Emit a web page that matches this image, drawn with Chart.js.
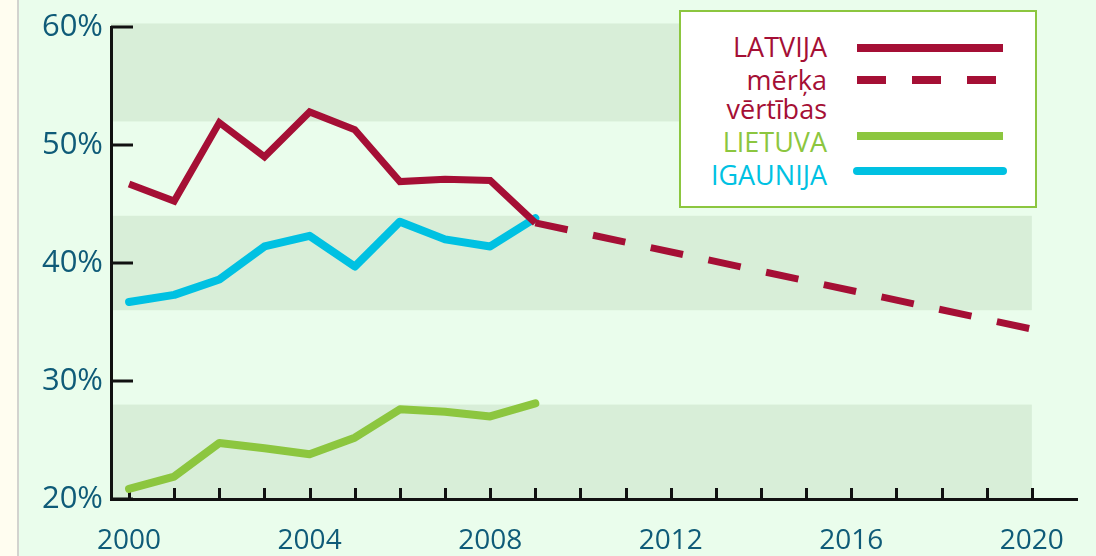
<!DOCTYPE html>
<html>
<head>
<meta charset="utf-8">
<script src="https://cdn.jsdelivr.net/npm/chart.js@4"></script>
<style>
  html, body { margin: 0; padding: 0; }
  body { width: 1096px; height: 556px; position: relative; overflow: hidden; background: #eafdec; font-family: "Open Sans", sans-serif; }
  #wrap { position: absolute; left: 0; top: 0; width: 1096px; height: 556px; }
  #legend { position: absolute; left: 679px; top: 10px; width: 354px; height: 194px; background: #fff; border: 2px solid #8cc63f; }
  #legend .lbl { position: absolute; right: 208px; font-size: 27px; line-height: 27px; white-space: nowrap; }
  #legend .smp { position: absolute; left: 176px; width: 146px; height: 8px; }
</style>
</head>
<body>
<div id="wrap"><canvas id="chart" width="1096" height="556"></canvas></div>
<div id="legend">
  <div class="lbl" style="top:21px;color:#a50f35">LATVIJA</div>
  <div class="smp" style="top:32px;background:#a50f35"></div>
  <div class="lbl" style="top:54px;color:#a50f35">mērķa</div>
  <div class="smp" style="top:64px;background:repeating-linear-gradient(90deg,#a50f35 0 29px,transparent 29px 55px)"></div>
  <div class="lbl" style="top:83px;color:#a50f35">vērtības</div>
  <div class="lbl" style="top:116px;color:#8cc63f">LIETUVA</div>
  <div class="smp" style="top:120px;background:#8cc63f"></div>
  <div class="lbl" style="top:149px;color:#00c1e2">IGAUNIJA</div>
  <div class="smp" style="top:155px;left:172px;width:154px;border-radius:4px;background:#00c1e2"></div>
</div>
<script>
// chart data
const years = [2000, 2001, 2002, 2003, 2004, 2005, 2006, 2007, 2008, 2009];
const latvija = [46.7, 45.25, 51.9, 49.0, 52.8, 51.3, 46.9, 47.1, 47.0, 43.4];
const targetYears = [2009, 2020];
const targetValues = [43.4, 34.4];
const lietuva = [20.85, 21.9, 24.75, 24.3, 23.8, 25.2, 27.6, 27.4, 27.0, 28.1];
const igaunija = [36.7, 37.3, 38.6, 41.4, 42.3, 39.7, 43.5, 42.0, 41.4, 43.8];

const yTicks = [20, 30, 40, 50, 60];
const xTickYears = [2000, 2001, 2002, 2003, 2004, 2005, 2006, 2007, 2008, 2009, 2010,
  2011, 2012, 2013, 2014, 2015, 2016, 2017, 2018, 2019, 2020];
const xLabelYears = [2000, 2004, 2008, 2012, 2016, 2020];
// shaded horizontal bands [from, to] in %
const bands = [[52, 60.3], [36, 44], [20, 28]];
const bandEndYear = 2020;

const RED = '#a50f35', GREEN = '#8cc63f', CYAN = '#00c1e2', TEXT = '#0f5b78';

const pts = (xs, ys) => xs.map((x, i) => ({ x: x, y: ys[i] }));

// background, bands and inner tick marks
const decor = {
  id: 'decor',
  beforeDraw(chart) {
    const ctx = chart.ctx, a = chart.chartArea;
    const xs = chart.scales.x, ys = chart.scales.y;
    ctx.save();
    ctx.fillStyle = '#eafdec';
    ctx.fillRect(0, 0, chart.width, chart.height);
    ctx.fillStyle = '#fffdf0';
    ctx.fillRect(0, 0, 17, chart.height);
    ctx.fillStyle = '#d3d3cf';
    ctx.fillRect(17, 0, 2, chart.height);
    ctx.fillStyle = '#d8eed8';
    const xr = xs.getPixelForValue(bandEndYear);
    bands.forEach(b => {
      const top = ys.getPixelForValue(b[1]);
      const bot = ys.getPixelForValue(b[0]);
      ctx.fillRect(a.left, top, xr - a.left, bot - top);
    });
    ctx.restore();
  },
  beforeDatasetsDraw(chart) {
    const ctx = chart.ctx, a = chart.chartArea;
    const xs = chart.scales.x, ys = chart.scales.y;
    ctx.save();
    ctx.strokeStyle = '#111';
    ctx.lineWidth = 3;
    ctx.beginPath();
    xTickYears.forEach(v => {
      const x = Math.round(xs.getPixelForValue(v)) + 0.5;
      ctx.moveTo(x, a.bottom);
      ctx.lineTo(x, a.bottom - 11);
    });
    yTicks.forEach(v => {
      const y = Math.round(ys.getPixelForValue(v));
      ctx.moveTo(a.left, y);
      ctx.lineTo(a.left + 22, y);
    });
    ctx.stroke();
    ctx.restore();
  }
};

new Chart(document.getElementById('chart'), {
  type: 'line',
  data: {
    datasets: [
      {
        label: 'LATVIJA',
        data: pts(years, latvija),
        borderColor: RED,
        borderWidth: 7,
        borderJoinStyle: 'miter',
        order: 0
      },
      {
        label: 'mērķa vērtības',
        data: pts(targetYears, targetValues),
        borderColor: RED,
        borderWidth: 7,
        borderDash: [33, 26],
        order: 1
      },
      {
        label: 'IGAUNIJA',
        data: pts(years, igaunija),
        borderColor: CYAN,
        borderWidth: 8,
        borderCapStyle: 'round',
        borderJoinStyle: 'round',
        order: 2
      },
      {
        label: 'LIETUVA',
        data: pts(years, lietuva),
        borderColor: GREEN,
        borderWidth: 8,
        borderCapStyle: 'round',
        borderJoinStyle: 'round',
        order: 3
      }
    ]
  },
  options: {
    responsive: false,
    animation: false,
    clip: false,
    elements: { point: { radius: 0 }, line: { tension: 0 } },
    layout: { padding: { left: 0, top: 27, right: 19, bottom: 0 } },
    plugins: { legend: { display: false }, tooltip: { enabled: false } },
    scales: {
      x: {
        type: 'linear',
        min: 1999.6,
        max: 2021,
        afterFit: s => { s.height = 57; },
        afterBuildTicks: s => { s.ticks = xTickYears.map(v => ({ value: v })); },
        grid: { display: true, drawOnChartArea: false, drawTicks: false },
        border: { display: true, color: '#111', width: 3 },
        ticks: {
          autoSkip: false,
          maxRotation: 0,
          padding: 25,
          color: TEXT,
          font: { family: 'Open Sans', size: 28 },
          callback: v => xLabelYears.includes(v) ? String(v) : ''
        }
      },
      y: {
        min: 20,
        max: 60,
        afterFit: s => { s.width = 111; },
        afterBuildTicks: s => { s.ticks = yTicks.map(v => ({ value: v })); },
        grid: { display: true, drawOnChartArea: false, drawTicks: false },
        border: { display: true, color: '#111', width: 3 },
        ticks: {
          padding: 8,
          color: TEXT,
          font: { family: 'Open Sans', size: 31 },
          callback: v => v + '%'
        }
      }
    }
  },
  plugins: [decor]
});
</script>
</body>
</html>
